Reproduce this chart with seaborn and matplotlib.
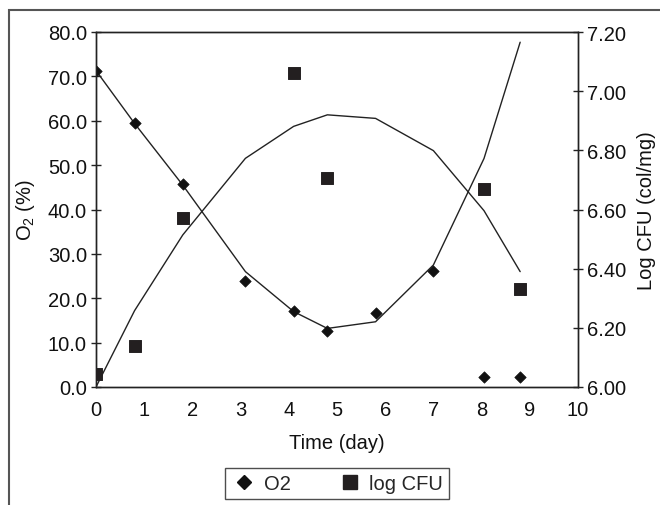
import matplotlib
matplotlib.use("Agg")
import matplotlib.pyplot as plt
import seaborn as sns
import pandas as pd
from matplotlib.lines import Line2D
from matplotlib.patches import Rectangle
from matplotlib.ticker import FormatStrFormatter

# ---- data ----
o2_days = [0, 0.8, 1.8, 3.1, 4.1, 4.8, 5.8, 7.0, 8.05, 8.8]
o2_values = [71.2, 59.5, 45.8, 23.9, 17.1, 12.6, 16.7, 26.1, 2.3, 2.3]
o2_trend = [71.3, 59.4, 45.5, 26.0, 17.0, 13.2, 14.7, 27.5, 51.5, 77.7]

cfu_days = [0, 0.8, 1.8, 4.1, 4.8, 8.05, 8.8]
cfu_values = [6.045, 6.14, 6.57, 7.06, 6.705, 6.67, 6.33]
trend_days = [0, 0.8, 1.8, 3.1, 4.1, 4.8, 5.8, 7.0, 8.05, 8.8]
cfu_trend = [6.00, 6.258, 6.514, 6.773, 6.881, 6.920, 6.908, 6.799, 6.596, 6.390]

x_ticks = list(range(0, 11))
o2_ticks = [0, 10, 20, 30, 40, 50, 60, 70, 80]
cfu_ticks = [6.0, 6.2, 6.4, 6.6, 6.8, 7.0, 7.2]

sns.set_style("white")
plt.rcParams['font.family'] = ['Liberation Sans', 'DejaVu Sans']
plt.rcParams['mathtext.fontset'] = 'custom'
plt.rcParams['mathtext.rm'] = 'Liberation Sans'
plt.rcParams['mathtext.default'] = 'regular'

FS = 14.5

fig = plt.figure(figsize=(6.6, 5.06), dpi=100)
fig.patches.append(Rectangle((8.5 / 660, -0.1), 1.2, (506 - 10.5) / 506 + 0.1,
                             transform=fig.transFigure, fill=False,
                             edgecolor='#555555', linewidth=1.5, zorder=0))

ax = fig.add_axes([96 / 660, 1 - 388 / 506, 482 / 660, 355 / 506])
ax2 = ax.twinx()

df_o2 = pd.DataFrame({'day': o2_days, 'o2': o2_values, 'trend': o2_trend})
df_cfu = pd.DataFrame({'day': cfu_days, 'cfu': cfu_values})
df_ct = pd.DataFrame({'day': trend_days, 'trend': cfu_trend})

sns.lineplot(data=df_o2, x='day', y='trend', ax=ax, color='#222222', lw=1.0,
             sort=False, legend=False)
sns.scatterplot(data=df_o2, x='day', y='o2', ax=ax, marker='D', s=34,
                color='#111111', edgecolor='#111111', legend=False, zorder=3)
sns.lineplot(data=df_ct, x='day', y='trend', ax=ax2, color='#222222', lw=1.0,
             sort=False, legend=False)
sns.scatterplot(data=df_cfu, x='day', y='cfu', ax=ax2, marker='s', s=72,
                color='#231f20', edgecolor='#231f20', legend=False, zorder=3)

ax.set_xlim(0, 10)
ax.set_ylim(0, 80)
ax2.set_ylim(6.0, 7.2)
ax.set_xticks(x_ticks)
ax.set_yticks(o2_ticks)
ax2.set_yticks(cfu_ticks)
ax.yaxis.set_major_formatter(FormatStrFormatter('%.1f'))
ax2.yaxis.set_major_formatter(FormatStrFormatter('%.2f'))

for a in (ax, ax2):
    for s in a.spines.values():
        s.set_color('#222222')
        s.set_linewidth(1.0)
        s.set_visible(True)
    a.tick_params(direction='inout', length=7, width=1.0, color='#222222',
                  labelsize=FS, labelcolor='#111111', pad=3)
ax.tick_params(axis='x', pad=6)

ax.set_xlabel('Time (day)', fontsize=FS, labelpad=10, color='#111111')
ax.set_ylabel('O$_2$ (%)', fontsize=FS, labelpad=8, color='#111111')
ax2.set_ylabel('Log CFU (col/mg)', fontsize=FS, rotation=90, labelpad=8,
               color='#111111')

handles = [Line2D([], [], marker='D', ls='none', color='#111111', markersize=7),
           Line2D([], [], marker='s', ls='none', color='#231f20', markersize=9.5)]
leg = fig.legend(handles, ['O2', 'log CFU'], loc='center',
                 bbox_to_anchor=(337 / 660, 1 - 484.5 / 506), ncol=2,
                 fontsize=FS, frameon=True, fancybox=False,
                 handletextpad=0.3, columnspacing=2.3, borderpad=0.3,
                 handlelength=1.3)
leg.get_frame().set_edgecolor('#222222')
leg.get_frame().set_linewidth(1.0)

fig.savefig('out.png', dpi=100)
